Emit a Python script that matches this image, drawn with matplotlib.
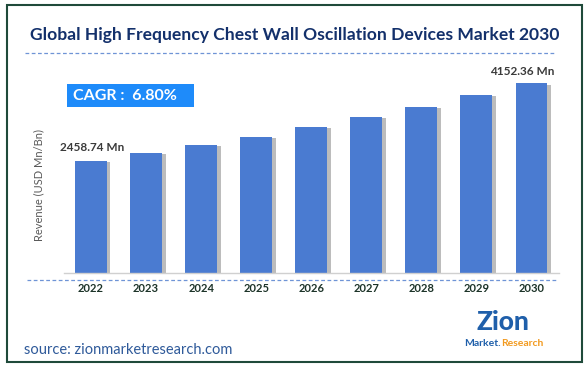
import matplotlib.pyplot as plt
import matplotlib.patheffects as pe
from matplotlib.patches import Rectangle
from matplotlib.lines import Line2D

# データ
years = ['2022', '2023', '2024', '2025', '2026', '2027', '2028', '2029', '2030']
revenue = [2458.74, 2632, 2807, 2982, 3201, 3420, 3639, 3895, 4152.36]
first_label = '2458.74 Mn'
last_label = '4152.36 Mn'
cagr_text = 'CAGR :  6.80%'

W, H = 587, 369
plt.rcParams['font.family'] = ['Lato', 'DejaVu Sans']

fig = plt.figure(figsize=(W / 100, H / 100), dpi=100)


def fx(x):
    return x / W


def fy(y):
    return 1 - y / H


# 枠
fig.patches.append(Rectangle((fx(7), fy(362)), fx(582) - fx(7), fy(5) - fy(362),
                             transform=fig.transFigure, fill=False,
                             edgecolor='#1F4A3A', linewidth=1.5))

# タイトル
fig.text(fx(294.5), fy(35), 'Global High Frequency Chest Wall Oscillation Devices Market 2030',
         ha='center', va='center', fontsize=12.6, fontweight='bold', color='#13306B')
fig.lines.append(Line2D([fx(25), fx(555)], [fy(52.5), fy(52.5)], transform=fig.transFigure,
                        color='#6F94D6', linewidth=0.9, linestyle=(0, (3, 2))))

# 棒グラフ
ax = fig.add_axes([fx(63.5), fy(273), fx(559) - fx(63.5), 213 / H])
x = list(range(len(years)))
bars = ax.bar(x, revenue, width=0.58, color='#4A7BD1', zorder=2)
for b in bars:
    b.set_path_effects([pe.SimplePatchShadow(offset=(2.5, -1), shadow_rgbFace='#7a7a7a', alpha=0.5),
                        pe.Normal()])
ax.set_xlim(-0.5, len(years) - 0.5)
ax.set_ylim(0, 213 * 21.88)
ax.set_xticks(x)
ax.set_xticklabels(years, fontsize=8, fontweight='bold', color='#1C3328')
ax.tick_params(axis='x', length=0, pad=7)
ax.set_yticks([])
for s in ['left', 'right', 'top']:
    ax.spines[s].set_visible(False)
ax.spines['bottom'].set_color('#D0D0D0')
ax.spines['bottom'].set_linewidth(1)

ax.annotate(first_label, (0, revenue[0]), xytext=(1, 13), textcoords='offset pixels',
            ha='center', va='center', fontsize=8.5, fontweight='bold', color='#3A3A3A')
ax.annotate(last_label, (len(years) - 1, revenue[-1]), xytext=(-9, 12), textcoords='offset pixels',
            ha='center', va='center', fontsize=8.5, fontweight='bold', color='#3A3A3A')

# 下の破線
fig.lines.append(Line2D([fx(27), fx(558)], [fy(280), fy(280)], transform=fig.transFigure,
                        color='#6F94D6', linewidth=0.9, linestyle=(0, (3, 2))))

# 軸ラベル
fig.text(fx(39), fy(185), 'Revenue (USD Mn/Bn)', rotation=90, ha='center', va='center',
         fontsize=8, color='#595959')

# CAGR ボックス
fig.patches.append(Rectangle((fx(67), fy(107)), fx(194) - fx(67), fy(84) - fy(107),
                             transform=fig.transFigure, facecolor='#1E8BFA', edgecolor='none'))
fig.text(fx(73), fy(96), cagr_text, ha='left', va='center', fontsize=11.5,
         fontweight='bold', color='white')

# ソース
fig.text(fx(24), fy(350), 'source: zionmarketresearch.com', ha='left', va='center',
         fontsize=10.5, color='#2F5A9A')

# ロゴ（テキストで代用）
fig.text(fx(503), fy(322), 'Zion', ha='center', va='center', fontsize=19,
         fontweight='black', color='#1F5FAA')
fig.text(fx(501), fy(343.5), 'Market.', ha='right', va='center', fontsize=7.5,
         fontweight='bold', color='#1F5FAA')
fig.text(fx(501), fy(343.5), 'Research', ha='left', va='center', fontsize=7.5,
         fontweight='bold', color='#F29A1F')

plt.savefig('out.png', dpi=100)
